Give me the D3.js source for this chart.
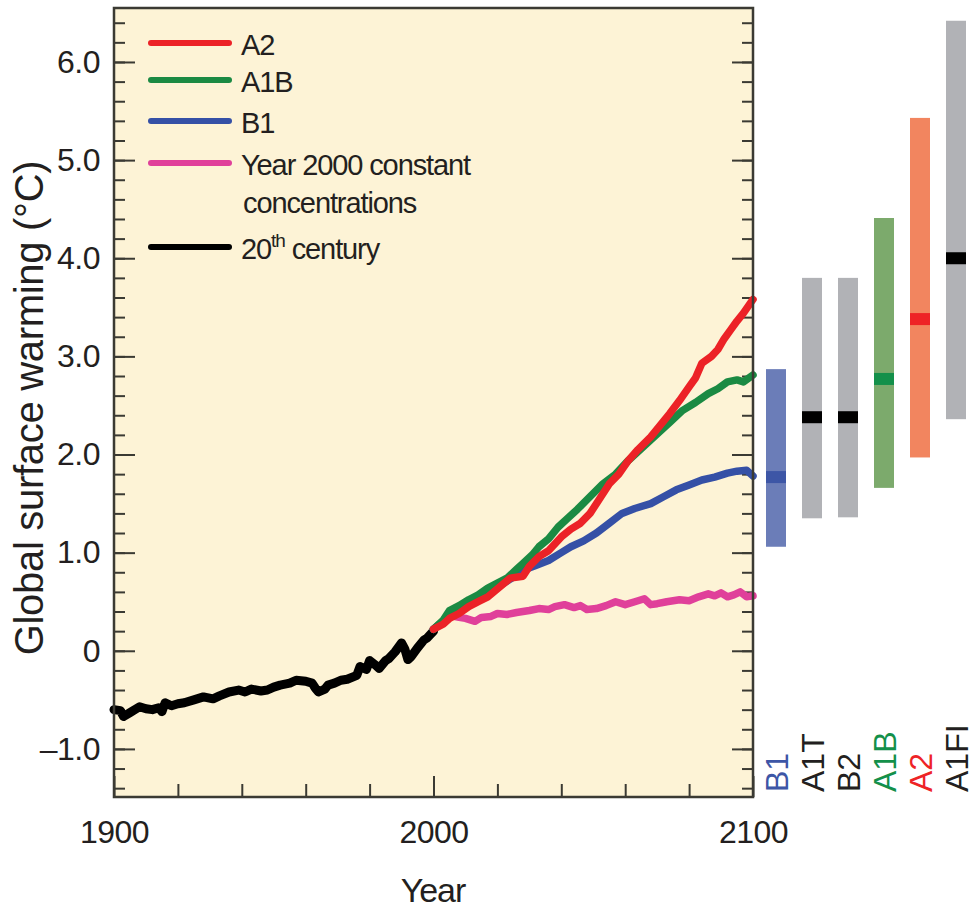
<!DOCTYPE html>
<html>
<head>
<meta charset="utf-8">
<script src="https://cdn.jsdelivr.net/npm/d3@7"></script>
<style>
  html, body { margin: 0; padding: 0; background: #fff; }
  text { font-family: "Liberation Sans", Arial, Helvetica, sans-serif; fill: #231f20; }
</style>
</head>
<body>
<svg id="chart" width="977" height="909"></svg>
<script>
// ---- data ----
var century20 = [[1900,-0.60],[1902,-0.61],[1903,-0.67],[1905,-0.63],[1908,-0.57],[1910,-0.59],[1912,-0.60],
    [1914,-0.58],[1915,-0.62],[1916,-0.53],[1918,-0.56],[1920,-0.54],[1922,-0.53],[1925,-0.50],[1928,-0.47],
    [1931,-0.49],[1933,-0.46],[1936,-0.42],[1939,-0.40],[1941,-0.42],[1943,-0.39],[1946,-0.41],[1948,-0.40],
    [1950,-0.37],[1952,-0.35],[1955,-0.33],[1957,-0.30],[1960,-0.31],[1962,-0.33],[1963,-0.38],[1964,-0.42],
    [1966,-0.39],[1967,-0.35],[1969,-0.33],[1971,-0.30],[1973,-0.29],[1976,-0.25],[1977,-0.16],[1979,-0.19],
    [1980,-0.10],[1982,-0.15],[1983,-0.18],[1985,-0.10],[1986,-0.08],[1988,-0.01],[1990,0.08],[1991,0.02],
    [1992,-0.09],[1993,-0.06],[1995,0.03],[1997,0.11],[1998,0.13],[2000,0.20]];

var a2 = [[2000,0.22],[2003,0.27],[2005,0.33],[2008,0.38],[2011,0.45],[2014,0.50],[2017,0.55],[2020,0.63],
    [2024,0.74],[2028,0.76],[2030,0.86],[2033,0.96],[2036,1.02],[2040,1.16],[2043,1.24],[2046,1.30],[2049,1.40],
    [2052,1.55],[2055,1.70],[2058,1.80],[2061,1.94],[2064,2.05],[2068,2.18],[2071,2.30],[2074,2.42],[2077,2.55],
    [2080,2.69],[2082,2.78],[2084,2.93],[2087,3.00],[2089,3.07],[2091,3.18],[2093,3.27],[2095,3.36],[2097,3.44],
    [2100,3.58]];

var a1b = [[2000,0.22],[2003,0.31],[2005,0.41],[2008,0.46],[2011,0.52],[2014,0.57],[2017,0.64],[2020,0.69],
    [2023,0.74],[2026,0.83],[2028,0.89],[2031,0.98],[2033,1.06],[2036,1.14],[2039,1.26],[2042,1.35],[2045,1.44],
    [2049,1.57],[2053,1.70],[2057,1.80],[2061,1.94],[2065,2.06],[2070,2.21],[2074,2.33],[2078,2.45],[2082,2.53],
    [2086,2.62],[2089,2.67],[2092,2.74],[2095,2.76],[2097,2.74],[2100,2.81]];

var b1 = [[2000,0.22],[2003,0.30],[2005,0.38],[2008,0.43],[2011,0.48],[2015,0.56],[2020,0.65],[2024,0.73],
    [2028,0.82],[2032,0.87],[2036,0.92],[2040,1.00],[2043,1.06],[2047,1.12],[2051,1.20],[2055,1.30],[2059,1.40],
    [2063,1.45],[2068,1.50],[2072,1.57],[2076,1.64],[2080,1.69],[2084,1.74],[2088,1.77],[2092,1.81],[2095,1.83],
    [2098,1.84],[2100,1.78]];

var constConc = [[2000,0.22],[2003,0.30],[2005,0.36],[2008,0.34],[2010,0.33],[2013,0.30],[2015,0.34],[2018,0.35],
    [2020,0.38],[2023,0.37],[2026,0.39],[2030,0.41],[2033,0.43],[2036,0.42],[2038,0.45],[2041,0.47],[2044,0.44],
    [2046,0.46],[2048,0.42],[2051,0.43],[2054,0.46],[2057,0.50],[2060,0.47],[2063,0.50],[2066,0.53],[2068,0.47],
    [2070,0.48],[2073,0.50],[2077,0.52],[2080,0.51],[2083,0.55],[2086,0.58],[2088,0.56],[2090,0.59],[2092,0.55],
    [2094,0.57],[2096,0.60],[2098,0.55],[2100,0.56]];

// likely ranges at 2100 per scenario
var scenarios = ['B1', 'A1T', 'B2', 'A1B', 'A2', 'A1FI'];
var rangeLow = [1.06, 1.35, 1.36, 1.66, 1.97, 2.36];
var rangeHigh = [2.87, 3.80, 3.80, 4.41, 5.43, 6.42];
var bestEstimate = [1.77, 2.38, 2.38, 2.77, 3.38, 4.00];

var yMajor = [-1, 0, 1, 2, 3, 4, 5, 6];
var xLabels = [1900, 2000, 2100];

// ---- styles ----
var barFill = {B1: '#6b7db8', A1T: '#b1b2b6', B2: '#b1b2b6', A1B: '#7caa6c', A2: '#f2855f', A1FI: '#b1b2b6'};
var barMid = {B1: '#3d56a6', A1T: '#000', B2: '#000', A1B: '#13904a', A2: '#ee2326', A1FI: '#000'};
var labelColor = {B1: '#3d56a6', A1T: '#231f20', B2: '#231f20', A1B: '#13904a', A2: '#ee2326', A1FI: '#231f20'};

var lineSeries = [
    {name: '20th century', data: century20, color: '#000000'},
    {name: 'Year 2000 constant concentrations', data: constConc, color: '#e0409a'},
    {name: 'B1', data: b1, color: '#3550a6'},
    {name: 'A1B', data: a1b, color: '#1b8a43'},
    {name: 'A2', data: a2, color: '#ec2227'}
];

var plot = {left: 114, right: 753, top: 8, bottom: 797};

var svg = d3.select('#chart');

var x = d3.scaleLinear().domain([1900, 2100]).range([plot.left, plot.right]);
var y = d3.scaleLinear().domain([-1.49, 6.55]).range([plot.bottom, plot.top]);

// background panel
svg.append('rect')
    .attr('x', plot.left).attr('y', plot.top)
    .attr('width', plot.right - plot.left).attr('height', plot.bottom - plot.top)
    .style('fill', '#fdf3d6');

var fmtY = function (d) {
    if (d === 0) return '0';
    return (d < 0 ? '\u2013' : '') + Math.abs(d).toFixed(1);
};

var minorY = d3.range(-14, 65, 2).map(function (d) { return d / 10; });

// left axis: minor + major ticks pointing inward
svg.append('g').attr('transform', 'translate(' + plot.left + ',0)')
    .call(d3.axisLeft(y).tickValues(minorY).tickSize(-11).tickFormat(''))
    .call(function (g) { g.select('.domain').remove(); });
svg.append('g').attr('class', 'yAxis').attr('transform', 'translate(' + plot.left + ',0)')
    .call(d3.axisLeft(y).tickValues(yMajor).tickSize(-21).tickPadding(14).tickFormat(fmtY))
    .call(function (g) { g.select('.domain').remove(); });

// right axis
svg.append('g').attr('transform', 'translate(' + plot.right + ',0)')
    .call(d3.axisRight(y).tickValues(minorY).tickSize(-11).tickFormat(''))
    .call(function (g) { g.select('.domain').remove(); });
svg.append('g').attr('transform', 'translate(' + plot.right + ',0)')
    .call(d3.axisRight(y).tickValues(yMajor).tickSize(-21).tickFormat(''))
    .call(function (g) { g.select('.domain').remove(); });

// bottom axis
svg.append('g').attr('transform', 'translate(0,' + plot.bottom + ')')
    .call(d3.axisBottom(x).tickValues([1920, 1940, 1960, 1980, 2020, 2040, 2060, 2080]).tickSize(-13).tickFormat(''))
    .call(function (g) { g.select('.domain').remove(); });
svg.append('g').attr('class', 'xAxis').attr('transform', 'translate(0,' + plot.bottom + ')')
    .call(d3.axisBottom(x).tickValues(xLabels).tickSize(-21).tickPadding(23).tickFormat(d3.format('d')))
    .call(function (g) { g.select('.domain').remove(); });

svg.selectAll('.tick line').style('stroke', '#3b3a33').style('stroke-width', 2);
svg.selectAll('.yAxis text, .xAxis text')
    .style('font-size', '32px')
    .style('letter-spacing', '-0.5px')
    .style('fill', '#231f20')
    .style('font-family', '"Liberation Sans", Arial, sans-serif');

// lines
var line = d3.line()
    .x(function (d) { return x(d[0]); })
    .y(function (d) { return y(d[1]); });

svg.append('g').selectAll('path')
    .data(lineSeries)
    .enter().append('path')
    .attr('d', function (d) { return line(d.data); })
    .style('fill', 'none')
    .style('stroke', function (d) { return d.color; })
    .style('stroke-width', function (d) { return d.name === '20th century' ? 9 : 7.5; })
    .style('stroke-linejoin', 'round')
    .style('stroke-linecap', 'round');

// frame
svg.append('rect')
    .attr('x', plot.left).attr('y', plot.top)
    .attr('width', plot.right - plot.left).attr('height', plot.bottom - plot.top)
    .style('fill', 'none').style('stroke', '#3b3a33').style('stroke-width', 2.5);

// legend
var legendItems = [
    {label: 'A2', color: '#ec2227', y: 43},
    {label: 'A1B', color: '#1b8a43', y: 80},
    {label: 'B1', color: '#3550a6', y: 121},
    {label: 'Year 2000 constant', label2: 'concentrations', color: '#e0409a', y: 163},
    {label: '20', sup: 'th', rest: ' century', color: '#000000', y: 247}
];
var legend = svg.append('g');
var items = legend.selectAll('g').data(legendItems).enter().append('g');
items.append('line')
    .attr('x1', 151).attr('x2', 229)
    .attr('y1', function (d) { return d.y; }).attr('y2', function (d) { return d.y; })
    .style('stroke', function (d) { return d.color; })
    .style('stroke-width', 6).style('stroke-linecap', 'round');
var lt = items.append('text')
    .attr('x', 241)
    .attr('y', function (d) { return d.y + 12; })
    .style('font-size', '29px')
    .style('letter-spacing', '-1.1px');
lt.append('tspan').text(function (d) { return d.label; });
lt.filter(function (d) { return d.sup; })
    .append('tspan').attr('dy', -12).style('font-size', '19px').text(function (d) { return d.sup; });
lt.filter(function (d) { return d.sup; })
    .append('tspan').attr('dy', 12).text(function (d) { return d.rest; });
items.filter(function (d) { return d.label2; })
    .append('text')
    .attr('x', 243).attr('y', function (d) { return d.y + 50; })
    .style('font-size', '29px').style('letter-spacing', '-1.1px')
    .text(function (d) { return d.label2; });

// range bars
var bx = d3.scalePoint().domain(scenarios).range([776, 956]);
var barW = 20;
var bars = svg.append('g').selectAll('g')
    .data(scenarios)
    .enter().append('g');
bars.append('rect')
    .attr('x', function (d) { return bx(d) - barW / 2; })
    .attr('width', barW)
    .attr('y', function (d, i) { return y(rangeHigh[i]); })
    .attr('height', function (d, i) { return y(rangeLow[i]) - y(rangeHigh[i]); })
    .style('fill', function (d) { return barFill[d]; });
bars.append('rect')
    .attr('x', function (d) { return bx(d) - barW / 2; })
    .attr('width', barW)
    .attr('y', function (d, i) { return y(bestEstimate[i]) - 6; })
    .attr('height', 12)
    .style('fill', function (d) { return barMid[d]; });
bars.append('text')
    .attr('transform', function (d) { return 'translate(' + (bx(d) + 12) + ',792) rotate(-90)'; })
    .style('font-size', '32px')
    .style('fill', function (d) { return labelColor[d]; })
    .text(function (d) { return d; });

// axis titles
svg.append('text')
    .attr('transform', 'translate(43,408) rotate(-90)')
    .attr('text-anchor', 'middle')
    .style('font-size', '40px')
    .style('letter-spacing', '-0.3px')
    .text('Global surface warming (\u00b0C)');
svg.append('text')
    .attr('x', 433).attr('y', 902)
    .attr('text-anchor', 'middle')
    .style('font-size', '34px')
    .style('letter-spacing', '-1px')
    .text('Year');
</script>
</body>
</html>
